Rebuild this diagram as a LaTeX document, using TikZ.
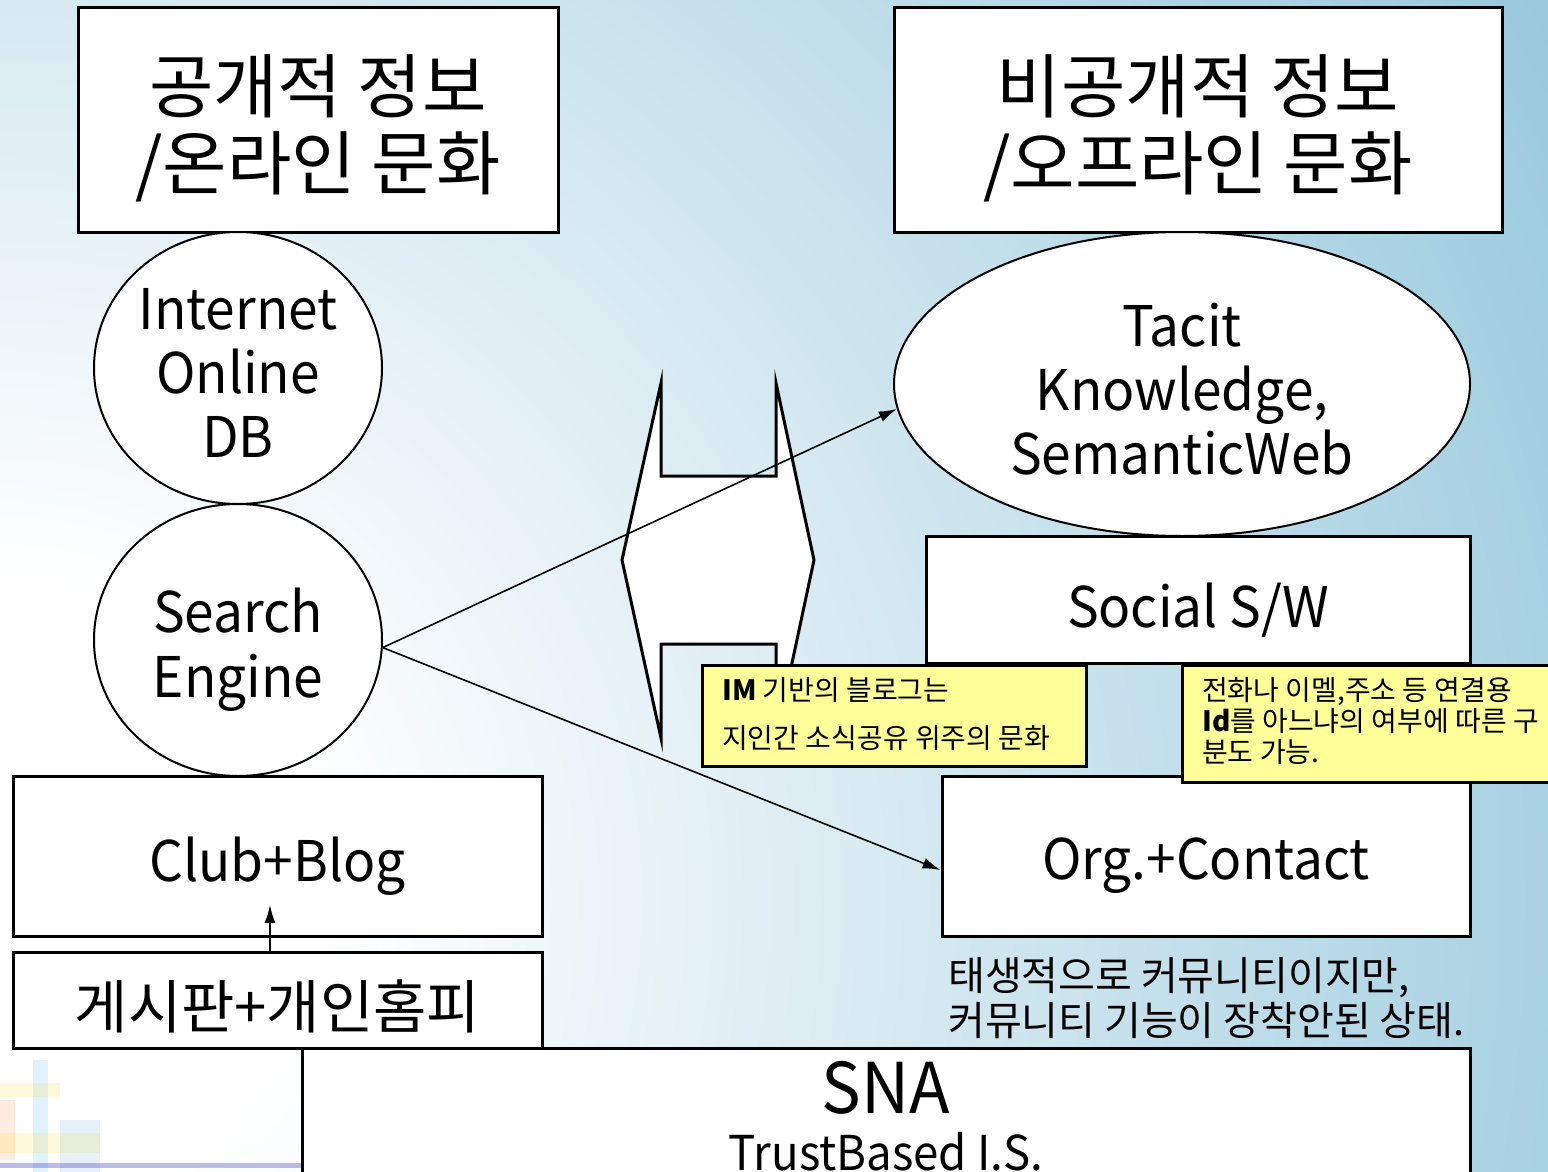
\documentclass[tikz,border=0pt]{standalone}
\usepackage{fontspec}
\setmainfont{Noto Sans CJK KR}
\newfontfamily\latn[FakeStretch=0.95]{Noto Sans CJK KR}
\usetikzlibrary{calc,arrows.meta,shapes.geometric}
\definecolor{bgblue}{RGB}{132,190,214}
\definecolor{notey}{RGB}{255,255,153}
\pgfdeclareradialshading{bgshade}{\pgfpoint{0bp}{0bp}}{color(0bp)=(white); color(4bp)=(white); color(26bp)=(bgblue); color(50bp)=(bgblue)}
\begin{document}
\begin{tikzpicture}[x=1pt,y=-1pt,
  boxn/.style={draw, line width=3pt, fill=white, rectangle, inner sep=0pt},
  ell/.style={draw, line width=2pt, fill=white, ellipse, inner sep=0pt},
  note/.style={draw, line width=3pt, fill=notey, rectangle, inner sep=0pt},
  arr/.style={line width=1.6pt, -{Latex[length=18pt,width=11pt]}},
  big/.style={font=\fontsize{70}{77}\selectfont, align=center},
  lat/.style={font=\latn\fontsize{56}{64}\selectfont, align=center},
  small/.style={font=\fontsize{28}{31}\selectfont, anchor=base west, inner sep=0pt},
  mid/.style={font=\fontsize{40}{45}\selectfont, anchor=base west, inner sep=0pt}]
\useasboundingbox (0,0) rectangle (1548,1172);
% background
\begin{scope}
\clip (0,0) rectangle (1548,1172);
\fill[bgblue] (0,0) rectangle (1548,1172);
\shade[shading=bgshade] (-2000,-1100) rectangle (2000,2900);
\fill[blue!40!cyan, opacity=0.12] (33,1060) rectangle (48,1172);
\fill[yellow!80!orange, opacity=0.15] (0,1083) rectangle (60,1097);
\fill[orange!80!red, opacity=0.12] (0,1100) rectangle (15,1160);
\fill[yellow!80!orange, opacity=0.15] (0,1133) rectangle (100,1153);
\fill[cyan!60!blue, opacity=0.1] (60,1120) rectangle (100,1172);
\fill[blue!50!gray, opacity=0.35] (0,1163) rectangle (302,1168);
\end{scope}
% boxes
\node[boxn, minimum width=480pt, minimum height=224pt] (topl) at (318,120) {};
\node[big] (topltxt) at (318,128) {공개적 정보\\/온라인 문화};
\node[boxn, minimum width=608pt, minimum height=224pt] (topr) at (1198,120) {};
\node[big] (toprtxt) at (1198,128) {비공개적 정보\\/오프라인 문화};
\node[ell, minimum width=288pt, minimum height=272pt] (inet) at (238,368) {};
\node[lat] (inettxt) at (238,373) {Internet\\Online\\DB};
\node[ell, minimum width=288pt, minimum height=272pt] (se) at (238,640) {};
\node[lat, font=\latn\fontsize{56}{65}\selectfont] (setxt) at (238,650) {Search\\Engine};
\node[ell, minimum width=576pt, minimum height=304pt] (tacit) at (1182,384) {};
\node[lat] (tacittxt) at (1182,389) {Tacit\\Knowledge,\\SemanticWeb};
\node[boxn, minimum width=544pt, minimum height=127pt] (social) at (1198,599.5) {};
\node[lat] (socialtxt) at (1198,610) {Social S/W};
\node[boxn, minimum width=528pt, minimum height=160pt] (org) at (1206,856) {};
\node[lat] (orgtxt) at (1206,866) {Org.+Contact};
\node[boxn, minimum width=529pt, minimum height=160pt] (club) at (277.5,856) {};
\node[lat] (clubtxt) at (277.5,866) {Club+Blog};
\node[boxn, minimum width=529pt, minimum height=96pt] (board) at (277.5,1000) {};
\node[font=\fontsize{58}{70}\selectfont] (boardtxt) at (277.5,1006) {게시판+개인홈피};
\node[boxn, minimum width=1168pt, minimum height=160pt] (sna) at (886,1128) {};
\node[font=\latn\fontsize{70}{80}\selectfont] (snat) at (886,1088) {SNA};
\node[font=\latn\fontsize{48}{56}\selectfont] (trust) at (886,1152) {TrustBased I.S.};
% text under org
\node[mid] (t1) at (948,990) {태생적으로 커뮤니티이지만,};
\node[mid] (t2) at (948,1035) {커뮤니티 기능이 장착안된 상태.};
% block arrow
\draw[line width=3pt, fill=white, line join=miter]
  (661,383) -- (622,560) -- (661,738) -- (661,644) -- (776,644) -- (776,738)
  -- (814,560) -- (776,383) -- (776,476) -- (661,476) -- cycle;
% arrows
\draw[arr] (se.-3) -- (tacit.185);
\draw[arr] (se.-3) -- ($(org.west)+(0,14)$);
% notes
\node[note, minimum width=384pt, minimum height=101pt] (note1) at (894,715.5) {};
\node[small] (n1a) at (722,700) {\textbf{IM} 기반의 블로그는};
\node[small] (n1b) at (722,748) {지인간 소식공유 위주의 문화};
\node[note, minimum width=380pt, minimum height=117pt] (note2) at (1372,723.5) {};
\node[small] (n2a) at (1202,700) {전화나 이멜,주소 등 연결용};
\node[small] (n2b) at (1202,731) {\textbf{Id}를 아느냐의 여부에 따른 구};
\node[small] (n2c) at (1202,762) {분도 가능.};
% board -> club
\coordinate (clubin) at (270,905);
\draw[arr] ($(board.north)+(-7.5,0)$) -- (clubin);
\end{tikzpicture}
\end{document}
